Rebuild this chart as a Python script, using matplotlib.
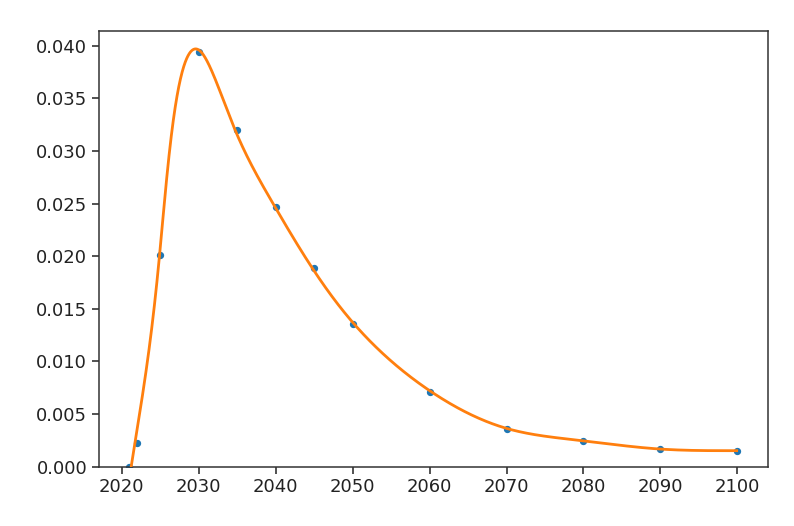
import numpy as np
import matplotlib
matplotlib.use('Agg')
import matplotlib.pyplot as plt
from matplotlib.ticker import FormatStrFormatter

years = [2021, 2022, 2025, 2030, 2035, 2040, 2045, 2050, 2060, 2070, 2080, 2090, 2100]
values = [0.0, 0.00228, 0.0201, 0.0394, 0.03195, 0.0247, 0.01886, 0.01354,
          0.00707, 0.00358, 0.00247, 0.00168, 0.00152]

# parametric smoothing curve through the points (chord-length parameter,
# second-difference penalty on a fine grid)
yr = np.array(years, float)
v = np.array(values, float)
d = np.hypot(np.diff(yr) / 80.0, np.diff(v) / 0.04)
u = np.concatenate([[0], np.cumsum(d)])
u = u / u[-1]

N = 1201
grid = np.linspace(0, 1, N)
du = grid[1] - grid[0]
k = np.round(u * (N - 1)).astype(int)
W = np.zeros(N)
W[k] = 1.0
D = np.zeros((N - 2, N))
i = np.arange(N - 2)
D[i, i] = 1
D[i, i + 1] = -2
D[i, i + 2] = 1
D /= du ** 2
P = du * D.T @ D


def smooth(vals, lam):
    rhs = np.zeros(N)
    rhs[k] = vals
    return np.linalg.solve(np.diag(W) + lam * P, rhs)


cx = smooth(yr, 1e-4)
cy = smooth(v, 1e-14)

fig = plt.figure(figsize=(7.94, 5.26), dpi=100)
ax = fig.add_axes([0.1247, 0.1128, 0.967 - 0.1247, 0.941 - 0.1128])
ax.scatter(years, values, s=18, color='C0', zorder=2)
ax.plot(cx, cy, color='C1', linewidth=2, zorder=3)
ax.set_xlim(2017.05, 2103.95)
ax.set_ylim(0, 0.0414)
ax.set_xticks(range(2020, 2101, 10))
ax.set_yticks(np.arange(0, 0.0401, 0.005))
ax.yaxis.set_major_formatter(FormatStrFormatter('%.3f'))
ax.tick_params(labelsize=13, width=1.1, length=5, colors='#222222')
for s in ax.spines.values():
    s.set_linewidth(1.1)
    s.set_color('#333333')

fig.savefig('out.png', dpi=100)
